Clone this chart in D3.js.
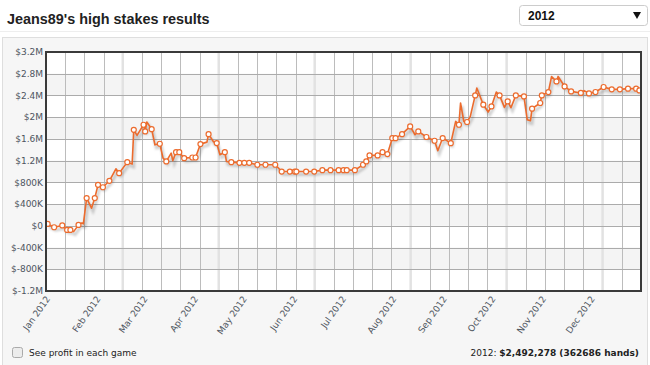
<!DOCTYPE html>
<html>
<head>
<meta charset="utf-8">
<script src="https://cdn.jsdelivr.net/npm/d3@7"></script>
<style>
  body { margin: 0; background: #fff; }
  svg { display: block; }
</style>
</head>
<body>
<div id="chart"></div>
<script>
const width = 650;
const height = 365;

// cumulative profit (in $K) by session date
const dates = ["2012-01-02","2012-01-06","2012-01-11","2012-01-14","2012-01-16","2012-01-18","2012-01-21","2012-01-23","2012-01-24","2012-01-26",
  "2012-01-29","2012-01-31","2012-02-02","2012-02-05","2012-02-09","2012-02-13","2012-02-15","2012-02-20","2012-02-23","2012-02-24",
  "2012-02-26","2012-03-01","2012-03-02","2012-03-03","2012-03-06","2012-03-08","2012-03-11","2012-03-13","2012-03-15","2012-03-18",
  "2012-03-19","2012-03-21","2012-03-23","2012-03-26","2012-03-31","2012-04-02","2012-04-05","2012-04-09","2012-04-10","2012-04-13",
  "2012-04-15","2012-04-17","2012-04-20","2012-04-21","2012-04-24","2012-04-29","2012-05-02","2012-05-05","2012-05-10","2012-05-15",
  "2012-05-21","2012-05-25","2012-05-30","2012-06-02","2012-06-03","2012-06-09","2012-06-14","2012-06-19","2012-06-24","2012-06-29",
  "2012-07-02","2012-07-04","2012-07-09","2012-07-14","2012-07-16","2012-07-18","2012-07-23","2012-07-26","2012-07-29","2012-08-01",
  "2012-08-03","2012-08-07","2012-08-12","2012-08-15","2012-08-17","2012-08-22","2012-08-27","2012-08-29","2012-09-01","2012-09-06",
  "2012-09-09","2012-09-11","2012-09-12","2012-09-14","2012-09-16","2012-09-18","2012-09-21","2012-09-22","2012-09-26","2012-09-29",
  "2012-10-01","2012-10-04","2012-10-06","2012-10-09","2012-10-11","2012-10-13","2012-10-16","2012-10-21","2012-10-23","2012-10-25",
  "2012-10-26","2012-10-31","2012-11-01","2012-11-05","2012-11-07","2012-11-10","2012-11-11","2012-11-15","2012-11-19","2012-11-25",
  "2012-11-27","2012-11-30","2012-12-04","2012-12-09","2012-12-14","2012-12-19","2012-12-24","2012-12-29","2012-12-31"];
const profitK = [35,-26,7,-76,-76,-107,17,53,35,510,
  324,510,754,710,829,1050,970,1172,1137,1768,
  1664,1861,1738,1911,1780,1491,1511,1247,1185,1338,
  1198,1356,1356,1246,1258,1258,1504,1541,1688,1548,
  1524,1308,1356,1185,1172,1159,1159,1159,1124,1124,
  1124,999,999,999,999,999,999,1025,1025,1025,
  1025,1025,1025,1124,1185,1296,1296,1356,1320,1614,
  1614,1688,1830,1677,1738,1635,1566,1382,1616,1522,
  1922,1861,2261,1922,1911,2014,2401,2536,2230,2095,
  2198,2464,2401,2180,2291,2175,2401,2383,1954,1935,
  2156,2261,2401,2462,2750,2658,2750,2567,2475,2446,
  2488,2438,2464,2556,2512,2512,2525,2525,2492];
// 1 = a game marker is drawn at this point
const marked = [1,1,1,1,1,0,1,0,0,1,
  0,1,1,1,1,0,1,1,0,1,
  0,1,1,0,1,0,1,0,1,0,
  0,1,1,1,1,1,1,0,1,0,
  1,0,1,0,1,1,1,1,1,1,
  1,1,1,1,1,1,1,1,1,1,
  1,1,1,1,1,1,1,1,1,1,
  1,1,1,0,1,1,1,0,1,1,
  0,1,0,0,1,0,1,0,1,0,
  1,0,1,0,1,0,1,1,0,0,
  1,1,1,1,0,1,0,1,1,1,
  0,1,1,1,1,1,1,1,1];
const yTicksK = [-1200,-800,-400,0,400,800,1200,1600,2000,2400,2800,3200];
const title = "Jeans89's high stakes results";
const yearLabel = "2012";
const totalLabel = "$2,492,278 (362686 hands)";

const parse = d3.timeParse("%Y-%m-%d");
const data = dates.map((d, i) => ({ date: parse(d), v: profitK[i], m: marked[i] }));

const plot = { left: 46, right: 641, top: 52, bottom: 291 };

const svg = d3.select("#chart").append("svg")
  .attr("width", width)
  .attr("height", height)
  .style("font-family", "'DejaVu Sans', Verdana, sans-serif");

// header
svg.append("text")
  .attr("x", 7).attr("y", 24)
  .style("font-family", "'Liberation Sans', Arial, sans-serif")
  .style("font-weight", "bold").style("font-size", "14.4px")
  .attr("fill", "#222")
  .text(title);

svg.append("rect")
  .attr("x", 519.5).attr("y", 5.5).attr("width", 128).attr("height", 20).attr("rx", 3)
  .attr("fill", "#fff").attr("stroke", "#ccc");
svg.append("text")
  .attr("x", 528).attr("y", 19.5)
  .style("font-family", "'Liberation Sans', Arial, sans-serif")
  .style("font-weight", "bold").style("font-size", "12px").attr("fill", "#111")
  .text(yearLabel);
svg.append("path")
  .attr("d", "M633,12 L641,12 L637,19 Z")
  .attr("fill", "#111");

svg.append("line")
  .attr("x1", 0).attr("x2", width).attr("y1", 31.5).attr("y2", 31.5)
  .attr("stroke", "#eee");

// panel
svg.append("rect")
  .attr("x", 2.5).attr("y", 37.5).attr("width", 645).attr("height", 330)
  .attr("fill", "#f6f6f6").attr("stroke", "#dedede");

const x = d3.scaleTime()
  .domain([new Date(2012, 0, 1), new Date(2013, 0, 1)])
  .range([plot.left, plot.right]);
const y = d3.scaleLinear()
  .domain([-1200, 3200])
  .range([plot.bottom, plot.top]);

svg.append("rect")
  .attr("x", plot.left).attr("y", plot.top)
  .attr("width", plot.right - plot.left).attr("height", plot.bottom - plot.top)
  .attr("fill", "#fff");

// alternating bands
const bands = yTicksK.slice(0, -1).map((t, i) => ({ lo: t, hi: yTicksK[i + 1] }));
svg.append("g").selectAll("rect")
  .data(bands.filter((b, i) => i % 2 === 1))
  .join("rect")
  .attr("x", plot.left).attr("width", plot.right - plot.left)
  .attr("y", d => y(d.hi)).attr("height", d => y(d.lo) - y(d.hi))
  .attr("fill", "#f4f4f4");

// vertical grid
const nCols = 31;
const colX = d3.range(nCols + 1).map(i => plot.left + (plot.right - plot.left) * i / nCols);
const grid = svg.append("g");
grid.selectAll("line.wide")
  .data(colX.filter((d, i) => i % 5 === 4))
  .join("line")
  .attr("class", "wide")
  .attr("x1", d => d).attr("x2", d => d)
  .attr("y1", plot.top).attr("y2", plot.bottom)
  .attr("stroke", "#e2e2e2").attr("stroke-width", 2.5);
grid.selectAll("line.v")
  .data(colX.filter((d, i) => i % 5 !== 4))
  .join("line")
  .attr("class", "v")
  .attr("x1", d => Math.round(d) + 0.5).attr("x2", d => Math.round(d) + 0.5)
  .attr("y1", plot.top).attr("y2", plot.bottom)
  .attr("stroke", "#bcbcbc");
grid.selectAll("line.h")
  .data(yTicksK)
  .join("line")
  .attr("class", "h")
  .attr("x1", plot.left).attr("x2", plot.right)
  .attr("y1", d => Math.round(y(d)) + 0.5).attr("y2", d => Math.round(y(d)) + 0.5)
  .attr("stroke", "#ababab");

// y labels
const fmtK = v => {
  if (v === 0) return "$0";
  const a = Math.abs(v);
  const s = a >= 1000 ? (a / 1000) + "M" : a + "K";
  return "$" + (v < 0 ? "-" : "") + s;
};
svg.append("g").selectAll("text")
  .data(yTicksK)
  .join("text")
  .attr("x", 43).attr("y", d => y(d))
  .attr("dy", "0.35em")
  .attr("text-anchor", "end")
  .style("font-size", "9px")
  .attr("fill", "#4e5560")
  .text(fmtK);

// x labels
const fmtM = d3.timeFormat("%b %Y");
svg.append("g").selectAll("text")
  .data(x.ticks(d3.timeMonth.every(1)).filter(d => d.getFullYear() === 2012))
  .join("text")
  .attr("transform", d => `translate(${x(d) + 2},${plot.bottom + 6}) rotate(-55)`)
  .attr("dy", "0.35em")
  .attr("text-anchor", "end")
  .style("font-size", "9px")
  .attr("fill", "#4e5560")
  .text(fmtM);

// line + shadow
const line = d3.line().x(d => x(d.date)).y(d => y(d.v));
const defs = svg.append("defs");
defs.append("filter").attr("id", "blur")
  .append("feGaussianBlur").attr("stdDeviation", 1.2);
defs.append("clipPath").attr("id", "clip")
  .append("rect")
  .attr("x", plot.left).attr("y", plot.top)
  .attr("width", plot.right - plot.left).attr("height", plot.bottom - plot.top);

const series = svg.append("g").attr("clip-path", "url(#clip)");
series.append("path")
  .datum(data)
  .attr("d", line)
  .attr("transform", "translate(1.5,3)")
  .attr("fill", "none")
  .attr("stroke", "rgba(0,0,0,0.18)")
  .attr("stroke-width", 3)
  .attr("filter", "url(#blur)");
series.append("path")
  .datum(data)
  .attr("d", line)
  .attr("fill", "none")
  .attr("stroke", "#ec6b2d")
  .attr("stroke-width", 1.6)
  .attr("stroke-linejoin", "round");
series.selectAll("circle")
  .data(data.filter(d => d.m === 1))
  .join("circle")
  .attr("cx", d => x(d.date))
  .attr("cy", d => y(d.v))
  .attr("r", 2.5)
  .attr("fill", "#fff")
  .attr("stroke", "#ec6b2d")
  .attr("stroke-width", 1.2);

// frame
svg.append("rect")
  .attr("x", plot.left).attr("y", plot.top)
  .attr("width", plot.right - plot.left).attr("height", plot.bottom - plot.top)
  .attr("fill", "none")
  .attr("stroke", "#3a3a3a").attr("stroke-width", 2);

// footer
svg.append("rect")
  .attr("x", 12.5).attr("y", 347.5).attr("width", 10).attr("height", 10).attr("rx", 2)
  .attr("fill", "#ececec").attr("stroke", "#aaa");
svg.append("text")
  .attr("x", 29).attr("y", 355.5)
  .style("font-size", "9px").attr("fill", "#222")
  .text("See profit in each game");

const foot = svg.append("text")
  .attr("x", 639).attr("y", 355.5)
  .attr("text-anchor", "end")
  .style("font-size", "9px").attr("fill", "#222");
foot.append("tspan").text(yearLabel + ": ");
foot.append("tspan").style("font-weight", "bold").text(totalLabel);
</script>
</body>
</html>
